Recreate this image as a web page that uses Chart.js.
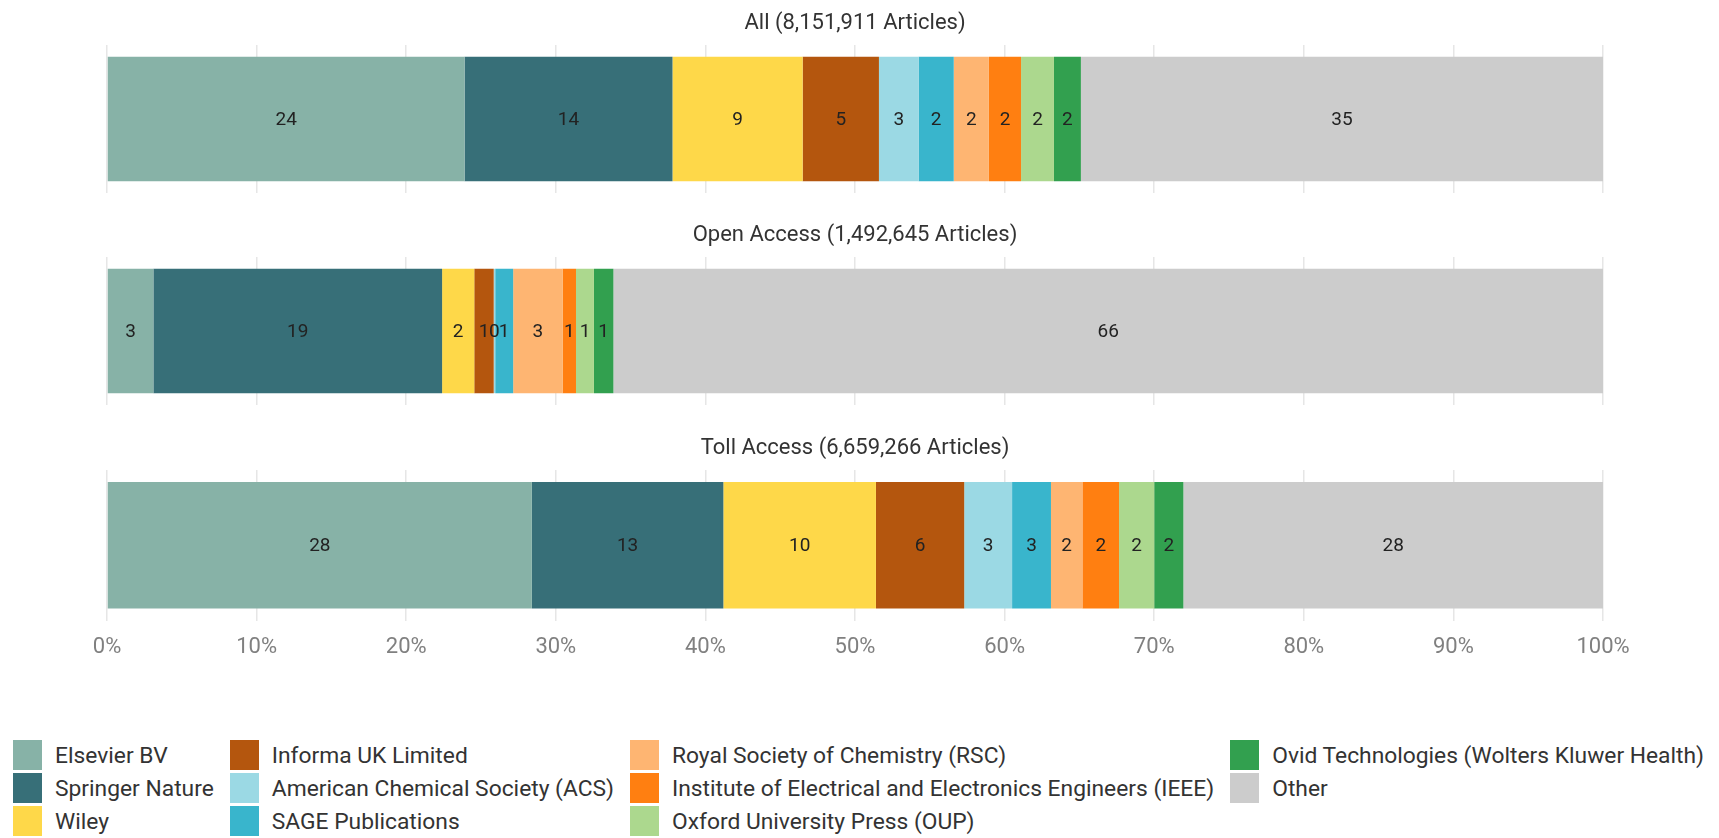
<!DOCTYPE html>
<html>
<head>
<meta charset="utf-8">
<script src="https://cdn.jsdelivr.net/npm/chart.js@4"></script>
<style>
  body { margin: 0; background: #fff; font-family: Roboto, sans-serif; }
  #page { position: relative; width: 1719px; height: 838px; overflow: hidden; }
  .panel { position: absolute; left: 0; }
  #legend {
    position: absolute; left: 13px; top: 740px;
    display: grid; grid-template-rows: repeat(3, 30px); grid-auto-flow: column;
    row-gap: 3px; column-gap: 16px;
    font-size: 22.8px; color: #333;
  }
  .item { display: flex; align-items: center; white-space: nowrap; }
  .swatch { width: 29px; height: 30px; margin-right: 13px; }
</style>
</head>
<body>
<div id="page">
  <canvas id="panel-all" class="panel" style="top:0px" width="1719" height="193"></canvas>
  <canvas id="panel-open" class="panel" style="top:212px" width="1719" height="193"></canvas>
  <canvas id="panel-toll" class="panel" style="top:425px" width="1719" height="256"></canvas>
  <div id="legend"></div>
</div>
<script>
// Editoras (ordem da pilha)
const publishers = [
    'Elsevier BV', 'Springer Nature', 'Wiley', 'Informa UK Limited',
    'American Chemical Society (ACS)', 'SAGE Publications',
    'Royal Society of Chemistry (RSC)',
    'Institute of Electrical and Electronics Engineers (IEEE)',
    'Oxford University Press (OUP)',
    'Ovid Technologies (Wolters Kluwer Health)', 'Other'
];
const colors = [
    '#87b2a7', '#376f78', '#fed849', '#b4560e', '#9bd9e4', '#39b5cc',
    '#feb572', '#ff7f11', '#acd88e', '#32a04f', '#cccccc'
];

// Percentual de artigos por editora
const allShare  = [23.9, 13.9, 8.7, 5.1, 2.65, 2.35, 2.35, 2.15, 2.2, 1.8, 34.9];
const openShare = [3.1, 19.3, 2.15, 1.3, 0.1, 1.2, 3.3, 0.9, 1.2, 1.3, 66.15];
const tollShare = [28.4, 12.8, 10.2, 5.9, 3.2, 2.6, 2.1, 2.45, 2.35, 1.95, 28.05];

const panelTitles = [
    'All (8,151,911 Articles)',
    'Open Access (1,492,645 Articles)',
    'Toll Access (6,659,266 Articles)'
];
const xTicks = [0, 10, 20, 30, 40, 50, 60, 70, 80, 90, 100];

// Rótulos no centro de cada segmento
const segmentLabels = {
    id: 'segmentLabels',
    afterDatasetsDraw(chart) {
        const ctx = chart.ctx;
        ctx.save();
        ctx.font = '19px Roboto';
        ctx.fillStyle = '#222';
        ctx.textAlign = 'center';
        ctx.textBaseline = 'middle';
        chart.data.datasets.forEach((ds, i) => {
            chart.getDatasetMeta(i).data.forEach((bar, j) => {
                const p = bar.getProps(['x', 'y', 'base'], true);
                ctx.fillText(Math.round(ds.data[j]), (p.x + p.base) / 2, p.y + 1);
            });
        });
        ctx.restore();
    }
};

function makePanel(id, title, shares, showTicks) {
    const ctx = document.getElementById(id).getContext('2d');
    return new Chart(ctx, {
        type: 'bar',
        data: {
            labels: [title],
            datasets: publishers.map((name, i) => ({
                label: name,
                data: [shares[i]],
                backgroundColor: colors[i],
                borderWidth: 0,
                barPercentage: 0.84,
                categoryPercentage: 1
            }))
        },
        options: {
            indexAxis: 'y',
            responsive: false,
            animation: false,
            layout: { padding: { left: 107, right: 116, top: 0, bottom: showTicks ? 6 : 0 } },
            scales: {
                x: {
                    stacked: true,
                    min: 0,
                    max: 100,
                    afterBuildTicks: axis => { axis.ticks = xTicks.map(v => ({ value: v })); },
                    border: { display: false },
                    grid: { color: '#e6e6e6', lineWidth: 1.5, drawTicks: false },
                    ticks: {
                        display: showTicks,
                        padding: 14,
                        color: '#808080',
                        font: { family: 'Roboto', size: 22 },
                        callback: v => v + '%'
                    }
                },
                y: { stacked: true, display: false }
            },
            plugins: {
                legend: { display: false },
                tooltip: { enabled: false },
                title: {
                    display: true,
                    text: title,
                    color: '#333',
                    font: { family: 'Roboto', size: 22, weight: 'normal' },
                    padding: { top: 10, bottom: 8.6 }
                }
            }
        },
        plugins: [segmentLabels]
    });
}

makePanel('panel-all', panelTitles[0], allShare, false);
makePanel('panel-open', panelTitles[1], openShare, false);
makePanel('panel-toll', panelTitles[2], tollShare, true);

// Legenda em colunas (como no ggplot)
const legend = document.getElementById('legend');
publishers.forEach((name, i) => {
    const item = document.createElement('div');
    item.className = 'item';
    item.innerHTML = `<span class="swatch" style="background:${colors[i]}"></span><span>${name}</span>`;
    legend.appendChild(item);
});
</script>
</body>
</html>
